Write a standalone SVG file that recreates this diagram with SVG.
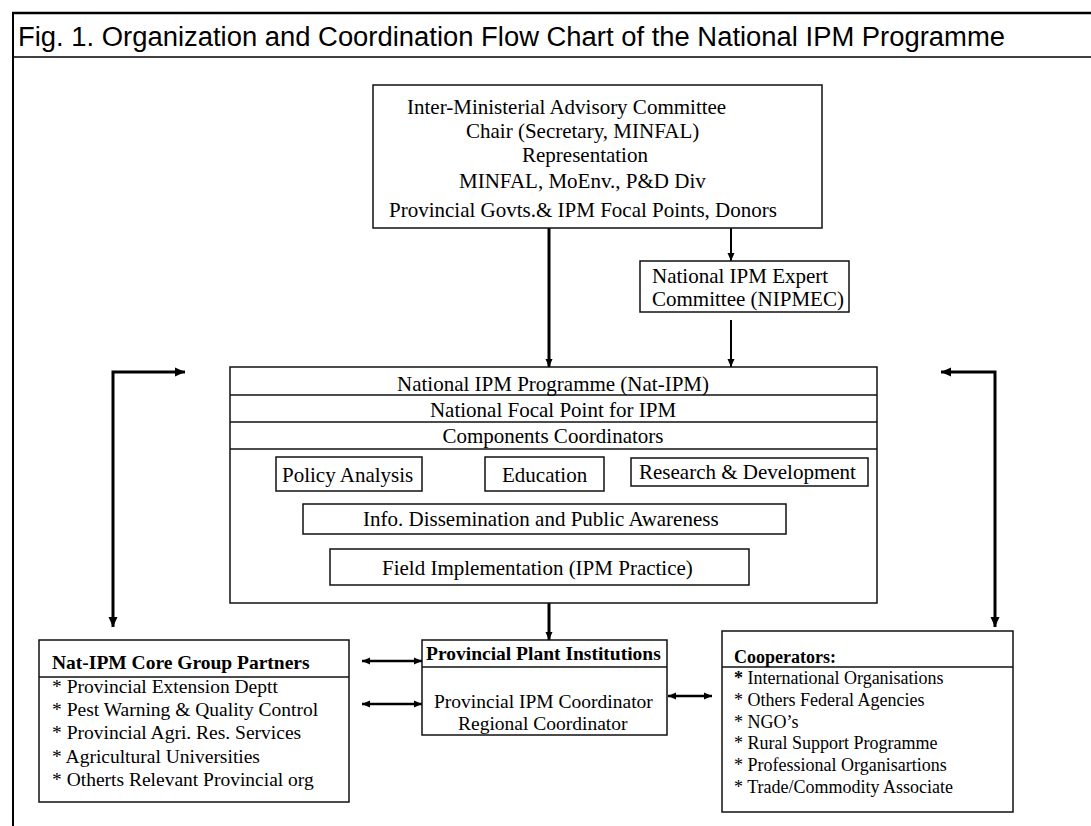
<svg xmlns="http://www.w3.org/2000/svg" width="1091" height="826" viewBox="0 0 1091 826">
<style>
  .frame { stroke:#000; fill:none; }
  .box { fill:#fff; stroke:#111; stroke-width:1.5; }
  .sep { stroke:#111; stroke-width:1.5; }
  .t { font-family:"Liberation Serif","Times New Roman",serif; font-size:21px; fill:#000; }
  .s { font-family:"Liberation Serif","Times New Roman",serif; font-size:19.5px; fill:#000; }
  .c { font-family:"Liberation Serif","Times New Roman",serif; font-size:18px; fill:#000; }
  .b { font-weight:bold; }
  .mid { text-anchor:middle; }
  .thick { stroke:#000; stroke-width:3; fill:none; }
  .thin { stroke:#000; stroke-width:2; fill:none; }
  .dbl { stroke:#000; stroke-width:2.5; fill:none; }
</style>
<defs>
  <marker id="ahT" markerUnits="userSpaceOnUse" markerWidth="10" markerHeight="10" viewBox="0 0 10 10" refX="10" refY="5" orient="auto-start-reverse">
    <path d="M0,0.5 L10,5 L0,9.5 Z" fill="#000"/>
  </marker>
  <marker id="ahS" markerUnits="userSpaceOnUse" markerWidth="8" markerHeight="8" viewBox="0 0 8 8" refX="8" refY="4" orient="auto-start-reverse">
    <path d="M0,0.5 L8,4 L0,7.5 Z" fill="#000"/>
  </marker>
</defs>
<rect width="1091" height="826" fill="#fff"/>

<g id="frame">
  <line class="frame" x1="12" y1="13" x2="1091" y2="13" stroke-width="2.5"/>
  <line class="frame" x1="12" y1="57" x2="1091" y2="57" stroke-width="1.5"/>
  <line class="frame" x1="13" y1="12" x2="13" y2="826" stroke-width="2"/>
  <text x="18" y="46" font-family="'Liberation Sans',Arial,sans-serif" font-size="27" textLength="987" lengthAdjust="spacingAndGlyphs">Fig. 1. Organization and Coordination Flow Chart of the National IPM Programme</text>
</g>

<g id="connectors">
  <line class="thick" x1="549" y1="228" x2="549" y2="367" marker-end="url(#ahS)"/>
  <line class="thin" x1="731" y1="228" x2="731" y2="261" marker-end="url(#ahS)"/>
  <line class="thin" x1="731" y1="320" x2="731" y2="367" marker-end="url(#ahS)"/>
  <line class="thick" x1="549" y1="603" x2="549" y2="640" marker-end="url(#ahS)"/>
  <path class="thick" d="M113,627 V372 H185" marker-start="url(#ahT)" marker-end="url(#ahT)"/>
  <path class="thick" d="M941,372 H995 V627" marker-start="url(#ahT)" marker-end="url(#ahT)"/>
  <line class="dbl" x1="362" y1="661" x2="422" y2="661" marker-start="url(#ahS)" marker-end="url(#ahS)"/>
  <line class="dbl" x1="362" y1="704" x2="422" y2="704" marker-start="url(#ahS)" marker-end="url(#ahS)"/>
  <line class="dbl" x1="668" y1="696" x2="712" y2="696" marker-start="url(#ahS)" marker-end="url(#ahS)"/>
</g>

<g id="advisory">
  <rect class="box" x="373" y="85" width="449" height="143"/>
  <text class="t" x="407" y="114">Inter-Ministerial Advisory Committee</text>
  <text class="t" x="466" y="138">Chair (Secretary, MINFAL)</text>
  <text class="t" x="522" y="162">Representation</text>
  <text class="t" x="459" y="188">MINFAL, MoEnv., P&amp;D Div</text>
  <text class="t" x="389" y="217">Provincial Govts.&amp; IPM Focal Points, Donors</text>
</g>

<g id="nipmec">
  <rect class="box" x="640" y="261" width="209" height="51"/>
  <text class="t" x="652" y="283">National IPM Expert</text>
  <text class="t" x="652" y="306">Committee (NIPMEC)</text>
</g>

<g id="natipm">
  <rect class="box" x="230" y="367" width="647" height="236"/>
  <line class="sep" x1="230" y1="395" x2="877" y2="395"/>
  <line class="sep" x1="230" y1="422" x2="877" y2="422"/>
  <line class="sep" x1="230" y1="449" x2="877" y2="449"/>
  <text class="t mid" x="553" y="391">National IPM Programme (Nat-IPM)</text>
  <text class="t mid" x="553" y="417">National Focal Point for IPM</text>
  <text class="t mid" x="553" y="443">Components Coordinators</text>
</g>

<g id="policy">
  <rect class="box" x="276" y="457" width="146" height="34"/>
  <text class="t" x="282" y="482">Policy Analysis</text>
</g>
<g id="education">
  <rect class="box" x="485" y="457" width="119" height="34"/>
  <text class="t" x="502" y="482">Education</text>
</g>
<g id="research">
  <rect class="box" x="631" y="458" width="237" height="28"/>
  <text class="t" x="639" y="479">Research &amp; Development</text>
</g>
<g id="info">
  <rect class="box" x="303" y="504" width="483" height="30"/>
  <text class="t" x="363" y="526">Info. Dissemination and Public Awareness</text>
</g>
<g id="field">
  <rect class="box" x="330" y="549" width="419" height="36"/>
  <text class="t" x="382" y="575">Field Implementation (IPM Practice)</text>
</g>

<g id="coregroup">
  <rect class="box" x="39" y="640" width="310" height="162"/>
  <line class="sep" x1="39" y1="677" x2="349" y2="677"/>
  <text class="s b" x="52" y="669">Nat-IPM Core Group Partners</text>
  <text class="s" x="52" y="693">* Provincial Extension Deptt</text>
  <text class="s" x="52" y="716">* Pest Warning &amp; Quality Control</text>
  <text class="s" x="52" y="739">* Provincial Agri. Res. Services</text>
  <text class="s" x="52" y="763">* Agricultural Universities</text>
  <text class="s" x="52" y="786">* Otherts Relevant Provincial org</text>
</g>

<g id="provincial">
  <rect class="box" x="422" y="640" width="245" height="95"/>
  <line class="sep" x1="422" y1="667" x2="667" y2="667"/>
  <text class="s b" x="426" y="660">Provincial Plant Institutions</text>
  <text class="s" x="434" y="708">Provincial IPM Coordinator</text>
  <text class="s" x="458" y="730">Regional Coordinator</text>
</g>

<g id="cooperators">
  <rect class="box" x="722" y="631" width="291" height="181"/>
  <line class="sep" x1="722" y1="667" x2="1013" y2="667"/>
  <text class="c b" x="734" y="663">Cooperators:</text>
  <text class="c" x="734" y="684"><tspan font-weight="bold">*</tspan> International Organisations</text>
  <text class="c" x="734" y="706">* Others Federal Agencies</text>
  <text class="c" x="734" y="728">* NGO’s</text>
  <text class="c" x="734" y="749">* Rural Support Programme</text>
  <text class="c" x="734" y="771">* Professional Organisartions</text>
  <text class="c" x="734" y="793">* Trade/Commodity Associate</text>
</g>
</svg>
